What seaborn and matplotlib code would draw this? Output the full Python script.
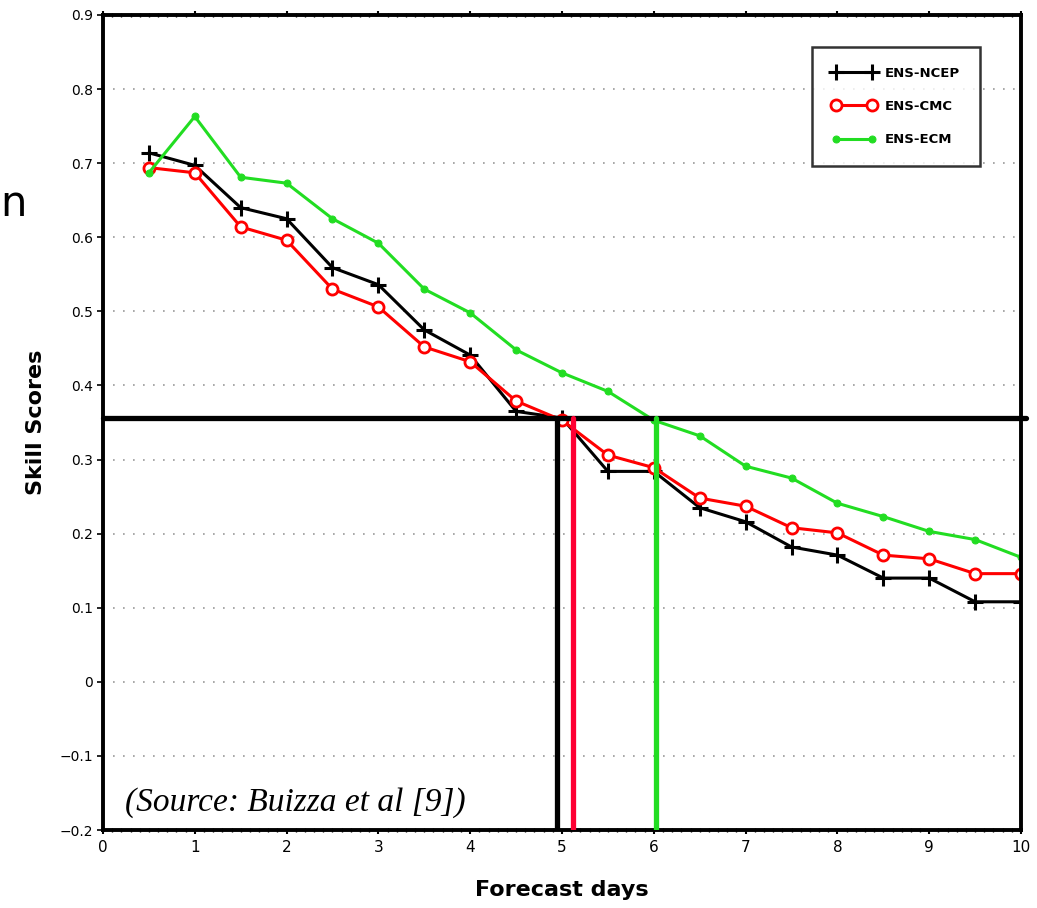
import seaborn as sns
import matplotlib.pyplot as plt
import numpy as np

# forecast days and skill scores
days = [0.5, 1, 1.5, 2, 2.5, 3, 3.5, 4, 4.5, 5, 5.5, 6, 6.5, 7, 7.5, 8, 8.5, 9, 9.5, 10]
ncep = [0.714, 0.697, 0.640, 0.625, 0.559, 0.536, 0.475, 0.441, 0.365, 0.356,
        0.284, 0.284, 0.235, 0.216, 0.182, 0.171, 0.140, 0.140, 0.108, 0.108]
cmc = [0.694, 0.687, 0.614, 0.596, 0.530, 0.506, 0.452, 0.432, 0.379, 0.353,
       0.306, 0.289, 0.248, 0.237, 0.208, 0.201, 0.171, 0.166, 0.146, 0.146]
ecm = [0.687, 0.763, 0.681, 0.673, 0.625, 0.592, 0.530, 0.498, 0.448, 0.417,
       0.392, 0.353, 0.332, 0.291, 0.275, 0.241, 0.223, 0.203, 0.192, 0.168]
labels = ['ENS-NCEP', 'ENS-CMC', 'ENS-ECM']

threshold = 0.356
cross_days = [4.95, 5.12, 6.02]   # where each curve drops below the threshold
cross_colors = ['black', '#ff0033', '#22dd22']

sns.set_style('white')
plt.rcParams['font.family'] = ['DejaVu Sans']
plt.rcParams['text.color'] = 'black'
plt.rcParams['axes.labelcolor'] = 'black'
plt.rcParams['xtick.color'] = 'black'
plt.rcParams['ytick.color'] = 'black'

fig = plt.figure(figsize=(10.37, 9.08), dpi=100)
ax = fig.add_axes([0.0993, 0.0859, 0.8853, 0.8976])

sns.lineplot(x=days, y=ncep, ax=ax, color='black', lw=2.2, marker='+', ms=12,
             mew=2.2, mec='black', label=labels[0])
sns.lineplot(x=days, y=cmc, ax=ax, color='red', lw=2.2, marker='o', ms=8,
             mfc='white', mec='red', mew=2, label=labels[1])
sns.lineplot(x=days, y=ecm, ax=ax, color='#22dd22', lw=2.2, marker='o', ms=5,
             mec='#22dd22', label=labels[2])

# threshold and crossing lines
ax.plot([0, 10.05], [threshold, threshold], color='black', lw=3.8, clip_on=False, zorder=5)
for d, c in zip(cross_days, cross_colors):
    ax.plot([d, d], [-0.2, threshold], color=c, lw=3.8, zorder=5)

ax.set_xlim(0, 10)
ax.set_ylim(-0.2, 0.9)
ax.set_xticks(range(0, 11))
ax.set_yticks(np.round(np.arange(-0.2, 0.91, 0.1), 1))
ax.set_yticklabels(['\u22120.2', '\u22120.1', '0', '0.1', '0.2', '0.3', '0.4',
                    '0.5', '0.6', '0.7', '0.8', '0.9'])
ax.set_xticks(np.arange(0, 10.01, 0.1), minor=True)
ax.tick_params(axis='x', which='major', bottom=True, top=True, direction='out',
               length=3, width=1.5, labelsize=11, pad=4)
ax.tick_params(axis='x', which='minor', bottom=True, top=True, direction='inout',
               length=3, width=1)
ax.tick_params(axis='y', which='major', left=True, direction='out', length=4,
               width=1.2, labelsize=10, pad=3)

ax.grid(axis='y', color='#999999', lw=1.2, linestyle=(0, (1, 5)))
for s in ax.spines.values():
    s.set_linewidth(2.8)
    s.set_color('black')

ax.set_xlabel('Forecast days', fontsize=16, fontweight='bold', labelpad=18)
ax.set_ylabel('Skill Scores', fontsize=16, fontweight='bold', labelpad=10)

ax.text(0.24, -0.163, '(Source: Buizza et al [9])', fontsize=24, style='italic',
        family='Liberation Serif', va='center', ha='left')

leg = ax.legend(loc='upper right', bbox_to_anchor=(0.955, 0.961), numpoints=2,
                handlelength=3.3, fontsize=9.5, frameon=True, fancybox=False,
                borderpad=1.5, labelspacing=1.55, handletextpad=0.7,
                borderaxespad=0)
leg.get_frame().set_edgecolor('black')
leg.get_frame().set_linewidth(1.8)
for t in leg.get_texts():
    t.set_fontweight('bold')

# cut-off slide text at the left edge
fig.text(0.0, 0.762, 'n', fontsize=30, color='black')

fig.savefig('out.png', dpi=100)
